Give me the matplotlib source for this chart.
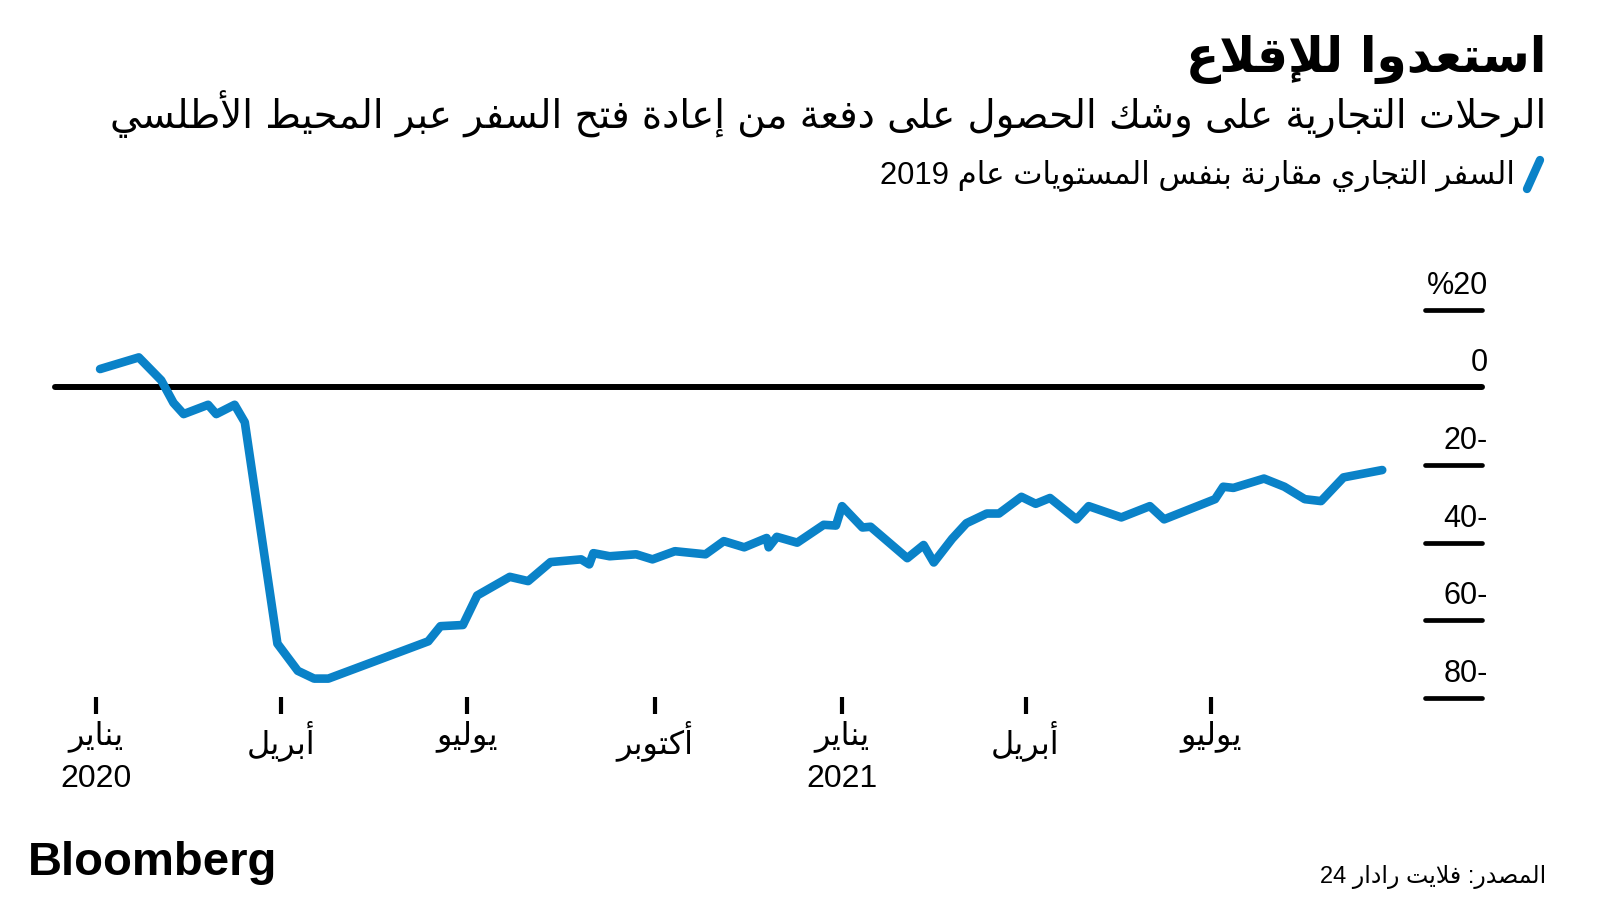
import re
import numpy as np
import matplotlib
matplotlib.use("Agg")
import matplotlib.pyplot as plt
import matplotlib.dates as mdates
from matplotlib.lines import Line2D

# DATA
dates = ["2020-01-03", "2020-01-22", "2020-02-02", "2020-02-08", "2020-02-13",
         "2020-02-25", "2020-02-29", "2020-03-09", "2020-03-14", "2020-03-30",
         "2020-04-09", "2020-04-17", "2020-04-24", "2020-06-12", "2020-06-18",
         "2020-06-29", "2020-07-06", "2020-07-22", "2020-07-31", "2020-08-11",
         "2020-08-26", "2020-08-30", "2020-09-01", "2020-09-09", "2020-09-22",
         "2020-09-30", "2020-10-11", "2020-10-26", "2020-11-04", "2020-11-14",
         "2020-11-25", "2020-11-26", "2020-11-30", "2020-12-10", "2020-12-23",
         "2020-12-29", "2021-01-01", "2021-01-11", "2021-01-15", "2021-02-02",
         "2021-02-10", "2021-02-15", "2021-02-24", "2021-03-03", "2021-03-13",
         "2021-03-19", "2021-03-30", "2021-04-06", "2021-04-13", "2021-04-26",
         "2021-05-02", "2021-05-18", "2021-06-01", "2021-06-08", "2021-07-03",
         "2021-07-07", "2021-07-12", "2021-07-27", "2021-08-06", "2021-08-16",
         "2021-08-24", "2021-09-04", "2021-09-23"]
values = [4.7, 7.7, 1.8, -4.0, -6.9,
          -4.5, -6.9, -4.5, -9.0, -66.0,
          -73.0, -75.0, -75.0, -65.4, -61.5,
          -61.2, -53.6, -48.8, -49.9, -45.0,
          -44.3, -45.6, -42.7, -43.5, -43.0,
          -44.3, -42.2, -43.0, -39.6, -41.2,
          -38.8, -41.2, -38.5, -40.0, -35.4,
          -35.6, -30.6, -36.1, -35.9, -44.0,
          -40.6, -45.1, -39.0, -35.0, -32.5,
          -32.5, -28.2, -30.0, -28.5, -34.0,
          -30.6, -33.5, -30.6, -34.0, -28.8,
          -25.6, -25.9, -23.5, -25.6, -28.8,
          -29.3, -23.2, -21.3]

tick_dates = ["2020-01-01", "2020-04-01", "2020-07-01", "2020-10-01",
              "2021-01-01", "2021-04-01", "2021-07-01"]
tick_months = ["يناير", "أبريل", "يوليو", "أكتوبر", "يناير", "أبريل", "يوليو"]
tick_years = ["2020", "", "", "", "2021", "", ""]
y_ticks = [20, 0, -20, -40, -60, -80]
y_labels = ["%20", "0", "20-", "40-", "60-", "80-"]

title = "استعدوا للإقلاع"
subtitle = "الرحلات التجارية على وشك الحصول على دفعة من إعادة فتح السفر عبر المحيط الأطلسي"
legend_label = "السفر التجاري مقارنة بنفس المستويات عام 2019"
source = "المصدر: فلايت رادار 24"

BLUE = "#0a82c8"

# minimal arabic shaping (presentation forms) + visual reordering
DUAL = {'ئ': 0xFE89, 'ب': 0xFE8F, 'ت': 0xFE95, 'ث': 0xFE99, 'ج': 0xFE9D,
        'ح': 0xFEA1, 'خ': 0xFEA5, 'س': 0xFEB1, 'ش': 0xFEB5, 'ص': 0xFEB9,
        'ض': 0xFEBD, 'ط': 0xFEC1, 'ظ': 0xFEC5, 'ع': 0xFEC9, 'غ': 0xFECD,
        'ف': 0xFED1, 'ق': 0xFED5, 'ك': 0xFED9, 'ل': 0xFEDD, 'م': 0xFEE1,
        'ن': 0xFEE5, 'ه': 0xFEE9, 'ي': 0xFEF1}
RIGHT = {'آ': 0xFE81, 'أ': 0xFE83, 'ؤ': 0xFE85, 'إ': 0xFE87, 'ا': 0xFE8D,
         'ة': 0xFE93, 'د': 0xFEA9, 'ذ': 0xFEAB, 'ر': 0xFEAD, 'ز': 0xFEAF,
         'و': 0xFEED, 'ى': 0xFEEF}
LAM_ALEF = {'آ': 0xFEF5, 'أ': 0xFEF7, 'إ': 0xFEF9, 'ا': 0xFEFB}


def shape(text):
    out = []
    i = 0
    n = len(text)
    while i < n:
        c = text[i]
        prev = i > 0 and text[i - 1] in DUAL
        if c == 'ل' and i + 1 < n and text[i + 1] in LAM_ALEF:
            base = LAM_ALEF[text[i + 1]]
            out.append(chr(base + 1 if prev else base))
            i += 2
            continue
        if c in DUAL:
            nxt = i + 1 < n and (text[i + 1] in DUAL or text[i + 1] in RIGHT)
            base = DUAL[c]
            if prev and nxt:
                out.append(chr(base + 3))
            elif prev:
                out.append(chr(base + 1))
            elif nxt:
                out.append(chr(base + 2))
            else:
                out.append(chr(base))
        elif c in RIGHT:
            out.append(chr(RIGHT[c] + 1 if prev else RIGHT[c]))
        elif c == 'ء':
            out.append(chr(0xFE80))
        else:
            out.append(c)
        i += 1
    runs = re.findall(r"[0-9A-Za-z%.]+|[^0-9A-Za-z%.]+", "".join(out))
    vis = []
    for r in reversed(runs):
        vis.append(r if re.match(r"[0-9A-Za-z%.]", r) else r[::-1])
    return "".join(vis)


AR = ["DejaVu Sans"]
MIX = ["Liberation Sans", "DejaVu Sans"]

W, H = 1600, 900
fig = plt.figure(figsize=(16, 9), dpi=100)
fig.patch.set_facecolor("white")

# axes box in pixels (from top-left)
ax_l, ax_r, ax_t, ax_b = 40, 1500, 260, 720
ax = fig.add_axes([ax_l / W, 1 - ax_b / H, (ax_r - ax_l) / W, (ax_b - ax_t) / H])

# scale anchors
x0 = mdates.date2num(np.datetime64("2020-01-01"))
px_day = (1211 - 96) / 547.0
y0_px, px_unit = 387.3, 3.884
ax.set_xlim(x0 + (ax_l - 96) / px_day, x0 + (ax_r - 96) / px_day)
ax.set_ylim((y0_px - ax_b) / px_unit, (y0_px - ax_t) / px_unit)

for s in ax.spines.values():
    s.set_visible(False)
ax.set_facecolor("none")


def ax_x(px):
    return (px - ax_l) / (ax_r - ax_l)


# series
ax.plot(np.array(dates, dtype="datetime64[D]"), values, color=BLUE, lw=6.2,
        solid_capstyle="round", solid_joinstyle="round", zorder=3)

# zero line + y tick lines / labels
ax.axhline(0, xmin=ax_x(55), xmax=ax_x(1482), color="black", lw=4.3,
           solid_capstyle="round", zorder=2)
for v, lab in zip(y_ticks, y_labels):
    if v != 0:
        ax.axhline(v, xmin=ax_x(1425), xmax=ax_x(1482), color="black", lw=3.4,
                   solid_capstyle="round")
    ax.annotate(lab, xy=(ax_x(1488), v), xycoords=ax.get_yaxis_transform(),
                xytext=(0, 11.5), textcoords="offset points", ha="right",
                va="baseline", fontsize=22, family=MIX)

# x ticks
ax.set_yticks([])
ax.spines["bottom"].set_position(("axes", (ax_b - 697) / (ax_b - ax_t)))
ax.set_xticks(np.array(tick_dates, dtype="datetime64[D]"))
xlabels = [shape(m) + "\n" + (y if y else " ") for m, y in zip(tick_months, tick_years)]
ax.set_xticklabels(xlabels, fontsize=23, family=MIX, linespacing=1.55, va="top")
ax.tick_params(axis="x", direction="out", length=12.5, width=3, pad=4, color="black")

# title block
R = 1546 / W
fig.text(R, 1 - 72 / H, shape(title), ha="right", va="baseline",
         fontsize=35, fontweight="bold", family=AR)
fig.text(R, 1 - 128 / H, shape(subtitle), ha="right", va="baseline",
         fontsize=27.8, family=AR)
fig.text(1515 / W, 1 - 184 / H, shape(legend_label), ha="right", va="baseline",
         fontsize=22.3, family=MIX)
fig.add_artist(Line2D([1527 / W, 1540 / W], [1 - 189 / H, 1 - 160 / H],
                      transform=fig.transFigure, color=BLUE, lw=6,
                      solid_capstyle="round"))

# footer
fig.text(28 / W, 1 - 875 / H, "Bloomberg", ha="left", va="baseline",
         fontsize=34, fontweight="bold", family=["Liberation Sans"])
fig.text(R, 1 - 883 / H, shape(source), ha="right", va="baseline",
         fontsize=17, family=MIX)

fig.savefig("out.png", dpi=100, facecolor="white")
